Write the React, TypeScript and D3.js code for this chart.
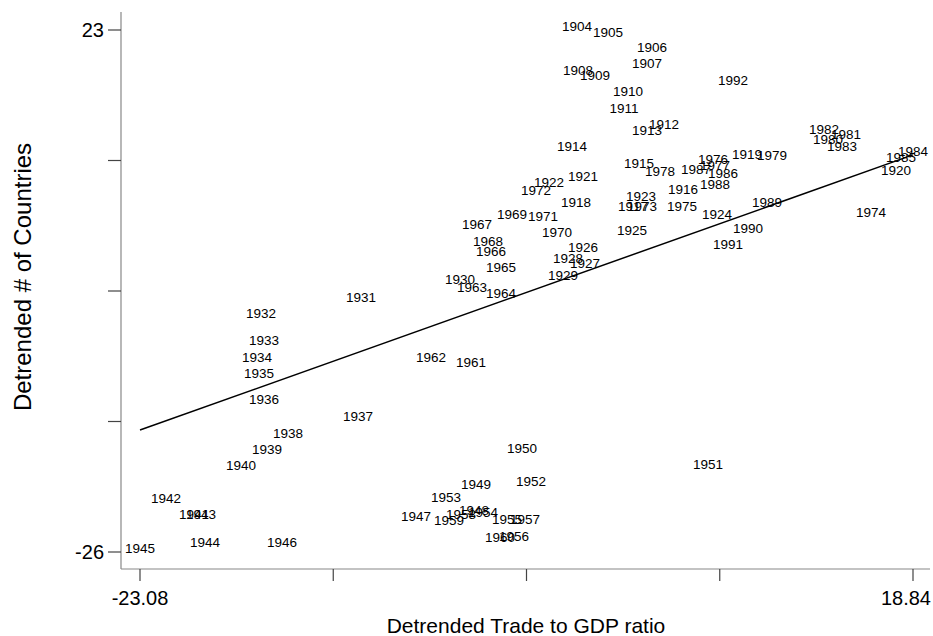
import React from "react";
import * as d3 from "d3";

// detrended trade/GDP (x) vs detrended # of countries (y), one label per year
const years = d3.range(1904, 1993);

const tradeGdp = [
  0.62, 2.3, 4.69, 4.41, 0.67, 1.59, 3.38, 3.17, 5.34, 4.41, // 1904-1913
  0.35, 3.98, 6.37, 3.66, 0.56, 9.84, 17.92, 0.94, -0.9, 4.09, // 1914-1923
  8.21, 3.6, 0.94, 1.05, 0.13, -0.14, -5.73, -11.1, -16.52, -16.36, // 1924-1933
  -16.74, -16.63, -16.36, -11.26, -15.05, -16.19, -17.6, -20.15, -21.67, -19.77, // 1934-1943
  -19.56, -23.08, -15.38, -8.11, -4.97, -4.86, -2.36, 7.72, -1.88, -6.49, // 1944-1953
  -4.48, -3.18, -2.8, -2.2, -5.67, -6.32, -3.56, -5.13, -7.3, -5.08, // 1954-1963
  -3.5, -3.5, -4.05, -4.8, -4.21, -2.91, -0.47, -1.23, -1.6, 4.14, // 1964-1973
  16.56, 6.31, 7.99, 8.1, 5.12, 11.19, 14.23, 15.21, 14.01, 14.99, // 1974-1983
  18.84, 18.19, 8.54, 7.07, 8.1, 10.92, 9.89, 8.81, 9.08, // 1984-1992
];

const countries = [
  23.0, 22.44, 21.03, 19.53, 18.87, 18.4, 16.9, 15.3, 13.8, 13.24,
  11.74, 10.14, 7.7, 6.1, 6.48, 10.98, 9.48, 8.92, 8.36, 7.04,
  5.35, 3.85, 2.25, 0.75, 1.22, -0.37, -0.75, -2.44, -3.94, -6.48,
  -8.07, -9.57, -12.01, -13.61, -15.21, -16.71, -18.21, -22.81, -21.31, -22.81,
  -25.44, -26.0, -25.44, -23.0, -22.43, -19.99, -16.61, -18.12, -19.71, -21.21,
  -22.62, -23.28, -24.87, -23.28, -22.81, -23.37, -24.97, -8.54, -8.07, -1.5,
  -2.06, 0.38, 1.88, 4.41, 2.82, 5.35, 3.66, 5.16, 7.61, 6.1,
  5.54, 6.1, 10.52, 9.95, 9.39, 10.89, 12.39, 12.86, 13.33, 11.74,
  11.27, 10.7, 9.2, 9.58, 8.17, 6.48, 4.04, 2.54, 17.93,
];

// fitted line
const fitSlope = 0.616;
const fitIntercept = -0.33;

const xDomain = [-23.08, 18.84];
const yDomain = [-26, 23];
const xTickLabels = ["-23.08", "", "", "", "18.84"];
const yTickLabels = ["-26", "", "", "", "23"];

const W = 933;
const H = 636;
const font = "'Liberation Sans', Arial, sans-serif";

export default function App() {
  const x = d3.scaleLinear().domain(xDomain).range([140, 913]);
  const y = d3.scaleLinear().domain(yDomain).range([552, 30]);

  const xTicks = d3.range(5).map((i) => xDomain[0] + (i * (xDomain[1] - xDomain[0])) / 4);
  const yTicks = d3.range(5).map((i) => yDomain[0] + (i * (yDomain[1] - yDomain[0])) / 4);

  const line = d3
    .line<number>()
    .x((d) => x(d))
    .y((d) => y(fitIntercept + fitSlope * d));

  return (
    <svg
      width={W}
      height={H}
      style={{ position: "absolute", left: 0, top: 0, background: "#fff" }}
      fontFamily={font}
    >
      {/* axes */}
      <line x1={121} x2={121} y1={12} y2={569} stroke="#888" strokeWidth={1.2} />
      <line x1={121} x2={930} y1={569} y2={569} stroke="#888" strokeWidth={1.2} />

      {yTicks.map((t, i) => (
        <g key={"y" + i}>
          <line x1={108} x2={121} y1={y(t)} y2={y(t)} stroke="#444" strokeWidth={1.2} />
          {yTickLabels[i] && (
            <text x={104} y={y(t)} dy="0.36em" textAnchor="end" fontSize={20} fill="#000">
              {yTickLabels[i]}
            </text>
          )}
        </g>
      ))}

      {xTicks.map((t, i) => {
        const last = i === xTicks.length - 1;
        return (
          <g key={"x" + i}>
            <line x1={x(t)} x2={x(t)} y1={569} y2={581} stroke="#444" strokeWidth={1.2} />
            {xTickLabels[i] && (
              <text
                x={last ? 931 : x(t)}
                y={605}
                textAnchor={last ? "end" : "middle"}
                fontSize={20}
                fill="#000"
              >
                {xTickLabels[i]}
              </text>
            )}
          </g>
        );
      })}

      <text x={526} y={633} textAnchor="middle" fontSize={21} fill="#000">
        Detrended Trade to GDP ratio
      </text>
      <text
        transform={`translate(31, 277) rotate(-90)`}
        textAnchor="middle"
        fontSize={24}
        fill="#000"
      >
        Detrended # of Countries
      </text>

      {/* fit */}
      <path d={line(xDomain) || ""} fill="none" stroke="#000" strokeWidth={1.5} />

      {/* year labels */}
      {years.map((yr, i) => (
        <text
          key={yr}
          x={x(tradeGdp[i])}
          y={y(countries[i]) + 1}
          textAnchor="middle"
          fontSize={13.5}
          fill="#000"
        >
          {yr}
        </text>
      ))}
    </svg>
  );
}
